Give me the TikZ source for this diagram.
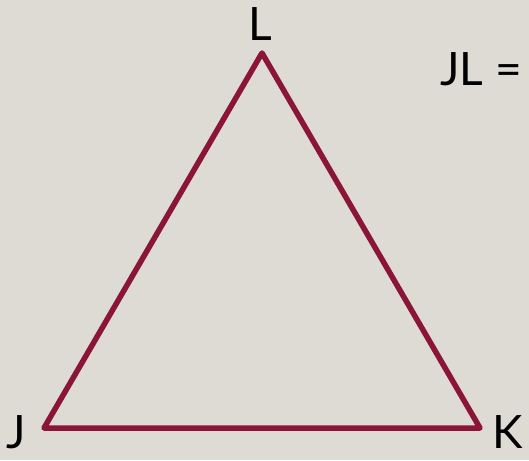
\documentclass[tikz,border=0pt]{standalone}
\usepackage{fontspec}
\setmainfont{Lato}
\usetikzlibrary{positioning}
\definecolor{fondo}{HTML}{DEDBD5}
\definecolor{granate}{HTML}{8A1538}
\tikzset{etiqueta/.style={anchor=base west,inner sep=0pt,text=black,font=\fontsize{46}{50}\selectfont}}

\begin{document}
\begin{tikzpicture}[x=1pt,y=-1pt]
\fill[fondo] (0,0) rectangle (529,460);
\useasboundingbox (0,0) rectangle (529,460);
% vertices
\coordinate (vL) at (262,53);
\coordinate (vJ) at (44,428);
\coordinate (vK) at (480,428);
\draw[granate,line width=5.5pt,line join=round] (vL) -- (vK) -- (vJ) -- cycle;
% labels
\node[etiqueta] (lL) at (248,41) {L};
\node[etiqueta] (lJ) at (6,448) {J};
\node[etiqueta] (lK) at (492,448) {K};
\node[etiqueta] (igual) at (440,85) {JL =};
\end{tikzpicture}
\end{document}
